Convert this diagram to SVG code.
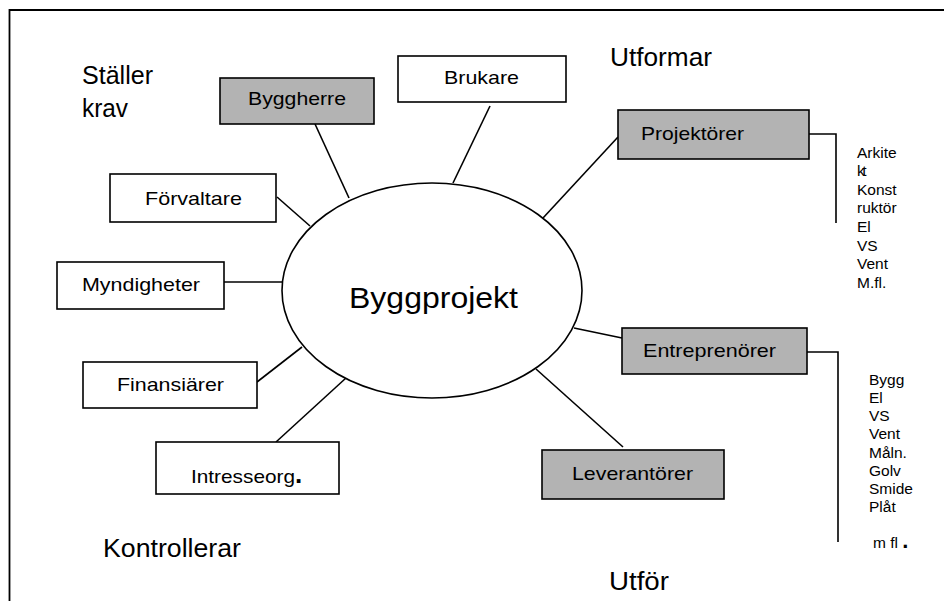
<svg xmlns="http://www.w3.org/2000/svg" width="944" height="601" viewBox="0 0 944 601">
  <style>
    text { font-family: "Liberation Sans", Arial, sans-serif; fill: #000; }
    .box { stroke: #000; stroke-width: 1.6; }
    .plain { fill: #fff; }
    .shaded { fill: #b3b3b3; }
    .lbl { font-size: 19px; }
    .head { font-size: 25px; }
    .list { font-size: 15.5px; }
    .conn line, .conn polyline { stroke: #000; stroke-width: 1.6; fill: none; }
  </style>

  <rect width="944" height="601" fill="#fff"/>
  <!-- page frame (open to the right and bottom) -->
  <polyline points="9.5,601 9.5,10 944,10" fill="none" stroke="#000" stroke-width="1.8"/>

  <!-- side headings -->
  <g id="headings">
    <text class="head" x="82" y="84" textLength="71" lengthAdjust="spacingAndGlyphs">Ställer</text>
    <text class="head" x="82" y="117" textLength="46" lengthAdjust="spacingAndGlyphs">krav</text>
    <text class="head" x="610" y="66" textLength="102" lengthAdjust="spacingAndGlyphs">Utformar</text>
    <text class="head" x="103" y="557" textLength="138" lengthAdjust="spacingAndGlyphs">Kontrollerar</text>
    <text class="head" x="609" y="590" textLength="60" lengthAdjust="spacingAndGlyphs">Utför</text>
  </g>

  <!-- connectors -->
  <g id="connectors" class="conn">
    <line x1="315" y1="124" x2="349" y2="198"/>
    <line x1="490" y1="106" x2="453" y2="183"/>
    <line x1="277" y1="197" x2="310" y2="226"/>
    <line x1="224" y1="282" x2="282" y2="282"/>
    <line x1="257" y1="382" x2="302" y2="347"/>
    <line x1="276" y1="442" x2="346" y2="378"/>
    <line x1="543" y1="218" x2="618" y2="137"/>
    <line x1="574" y1="328" x2="622" y2="338"/>
    <line x1="536" y1="369" x2="623" y2="447"/>
    <polyline points="809,134 836,134 836,223"/>
    <polyline points="807,352 838,352 838,542"/>
  </g>

  <g id="byggprojekt">
    <ellipse cx="432" cy="290.5" rx="150" ry="107.5" fill="#fff" stroke="#000" stroke-width="1.6"/>
    <text x="349" y="308" font-size="30" textLength="169" lengthAdjust="spacingAndGlyphs">Byggprojekt</text>
  </g>

  <g id="byggherre">
    <rect class="box shaded" x="220" y="78" width="154" height="46"/>
    <text class="lbl" x="248" y="105" textLength="98" lengthAdjust="spacingAndGlyphs">Byggherre</text>
  </g>

  <g id="brukare">
    <rect class="box plain" x="398" y="56" width="168" height="46"/>
    <text class="lbl" x="444" y="84" textLength="75" lengthAdjust="spacingAndGlyphs">Brukare</text>
  </g>

  <g id="forvaltare">
    <rect class="box plain" x="110" y="174" width="166" height="48"/>
    <text class="lbl" x="145" y="205" textLength="97" lengthAdjust="spacingAndGlyphs">Förvaltare</text>
  </g>

  <g id="myndigheter">
    <rect class="box plain" x="57" y="262" width="167" height="47"/>
    <text class="lbl" x="82" y="291" textLength="118" lengthAdjust="spacingAndGlyphs">Myndigheter</text>
  </g>

  <g id="finansiarer">
    <rect class="box plain" x="83" y="362" width="174" height="46"/>
    <text class="lbl" x="117" y="391" textLength="107" lengthAdjust="spacingAndGlyphs">Finansiärer</text>
  </g>

  <g id="intresseorg">
    <rect class="box plain" x="156" y="442" width="183" height="52"/>
    <text class="lbl" x="191" y="483"><tspan textLength="104" lengthAdjust="spacingAndGlyphs">Intresseorg</tspan><tspan font-size="26" font-weight="bold">.</tspan></text>
  </g>

  <g id="projektorer">
    <rect class="box shaded" x="618" y="110" width="191" height="49"/>
    <text class="lbl" x="641" y="140" textLength="103" lengthAdjust="spacingAndGlyphs">Projektörer</text>
  </g>

  <g id="entreprenorer">
    <rect class="box shaded" x="622" y="328" width="185" height="46"/>
    <text class="lbl" x="643" y="357" textLength="133" lengthAdjust="spacingAndGlyphs">Entreprenörer</text>
  </g>

  <g id="leverantorer">
    <rect class="box shaded" x="542" y="450" width="182" height="49"/>
    <text class="lbl" x="572" y="480" textLength="121" lengthAdjust="spacingAndGlyphs">Leverantörer</text>
  </g>

  <!-- sub-lists for the consultant and contractor groups -->
  <g id="projektorer-list">
    <text class="list" x="857" y="158">Arkite</text>
    <text class="list" x="857" y="176" letter-spacing="-2.5">kt</text>
    <text class="list" x="857" y="195">Konst</text>
    <text class="list" x="857" y="213">ruktör</text>
    <text class="list" x="857" y="232">El</text>
    <text class="list" x="857" y="251">VS</text>
    <text class="list" x="857" y="269">Vent</text>
    <text class="list" x="857" y="288">M.fl.</text>
  </g>

  <g id="entreprenorer-list">
    <text class="list" x="869" y="385">Bygg</text>
    <text class="list" x="869" y="403">El</text>
    <text class="list" x="869" y="421">VS</text>
    <text class="list" x="869" y="439">Vent</text>
    <text class="list" x="869" y="458">Måln.</text>
    <text class="list" x="869" y="476">Golv</text>
    <text class="list" x="869" y="494">Smide</text>
    <text class="list" x="869" y="512">Plåt</text>
    <text class="list" x="873" y="548">m fl <tspan font-size="22" font-weight="bold">.</tspan></text>
  </g>
</svg>
